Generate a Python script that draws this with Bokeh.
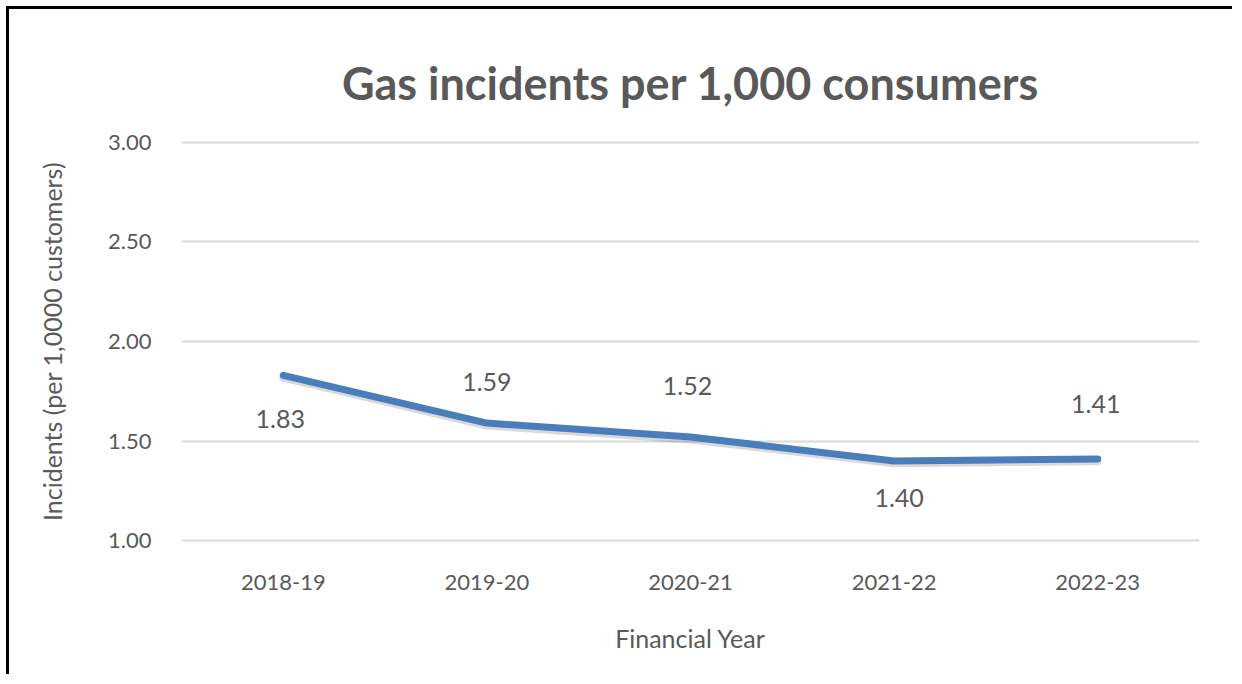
from bokeh.plotting import figure
from bokeh.models import ColumnDataSource, Range1d, FixedTicker, Title, NumeralTickFormatter
from bokeh.core.properties import value
from bokeh.embed import file_html
from bokeh.resources import INLINE

years = ["2018-19", "2019-20", "2020-21", "2021-22", "2022-23"]
incidents = [1.83, 1.59, 1.52, 1.40, 1.41]
label_texts = ["1.83", "1.59", "1.52", "1.40", "1.41"]
y_ticks = [1.0, 1.5, 2.0, 2.5, 3.0]

# label placement (screen px, positive = downward), style only
label_dy = [44, -41, -51, 37, -55]
label_dx = [-3, 0, -3, 5, -2]

FONT = "Lato"
GREY = "#595959"

src = ColumnDataSource(dict(x=years, y=incidents, t=label_texts, dy=label_dy, dx=label_dx))
shadow = ColumnDataSource(dict(x=years, y=[v - 0.012 for v in incidents]))

p = figure(x_range=years, y_range=Range1d(0.99, 3.01),
           width=1226, height=668, output_backend="svg", toolbar_location=None,
           min_border_left=172, min_border_right=36, min_border_top=131, min_border_bottom=135)
p.x_range.range_padding = 0
p.outline_line_color = None
p.margin = (6, 0, 0, 6)
p.styles = {"border-left": "3px solid #000", "border-top": "3px solid #000"}

p.title = Title(text="Gas incidents per 1,000 consumers", align="center",
                text_font=FONT, text_font_size="45px", text_font_style="bold",
                text_color=GREY, standoff=62)

p.xgrid.grid_line_color = None
p.ygrid.grid_line_color = "#d9d9d9"
p.ygrid.grid_line_width = 2
p.yaxis.ticker = FixedTicker(ticks=y_ticks)
p.yaxis.formatter = NumeralTickFormatter(format="0.00")

for ax in (p.xaxis, p.yaxis):
    ax.axis_line_color = None
    ax.major_tick_line_color = None
    ax.minor_tick_line_color = None
    ax.major_label_text_font = FONT
    ax.major_label_text_font_size = "22px"
    ax.major_label_text_color = GREY
    ax.axis_label_text_font = FONT
    ax.axis_label_text_font_size = "25px"
    ax.axis_label_text_font_style = "normal"
    ax.axis_label_text_color = GREY

p.yaxis.major_label_standoff = 24
p.xaxis.major_label_standoff = 26
p.yaxis.axis_label = "Incidents (per 1,0000 customers)"
p.xaxis.axis_label = "Financial Year"
p.yaxis.axis_label_standoff = 38
p.xaxis.axis_label_standoff = 30

p.line("x", "y", source=shadow, line_width=8, line_color="#000000", line_alpha=0.15,
       line_cap="round", line_join="round")
p.line("x", "y", source=src, line_width=7, line_color="#4a7ebb",
       line_cap="round", line_join="round")

p.text("x", "y", text="t", source=src, x_offset="dx", y_offset="dy",
       text_font=value(FONT), text_font_size="25px", text_color=GREY,
       text_align="center", text_baseline="middle")

open("out.html", "w").write(file_html(p, INLINE))
